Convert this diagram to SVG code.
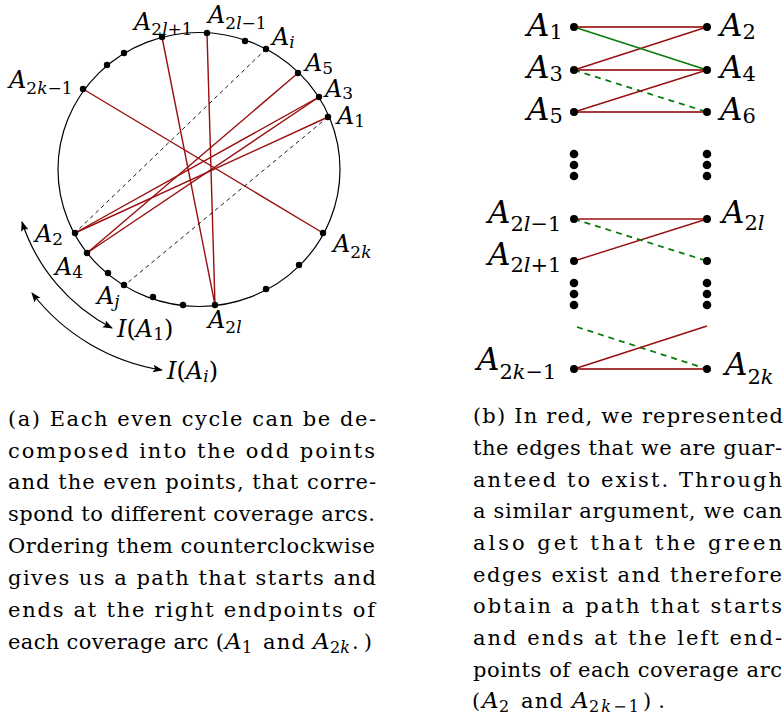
<svg xmlns="http://www.w3.org/2000/svg" width="784" height="721" viewBox="0 0 784 721">
<style>
  .lab { font-family: "DejaVu Serif", "Liberation Serif", serif; font-size: 24px; font-style: italic; fill: #000; }
  .labR { font-family: "DejaVu Serif", "Liberation Serif", serif; font-size: 31px; font-style: italic; fill: #000; }
  .sub { font-size: 17px; font-style: normal; }
  .subR { font-size: 21px; font-style: normal; }
  .it { font-style: italic; }
  .up { font-style: normal; }
  .cap { font-family: "DejaVu Serif", "Liberation Serif", serif; font-size: 21px; fill: #000; }
  .capA { font-size: 23px; font-style: italic; }
  .capS { font-size: 16px; }
  .red { stroke: #990f0f; stroke-width: 1.4; fill: none; }
  .redh { stroke: #a83a3a; stroke-width: 2; fill: none; }
  .grn { stroke: #0a7a0a; stroke-width: 1.6; fill: none; }
  .grnd { stroke: #0a7a0a; stroke-width: 1.8; fill: none; stroke-dasharray: 6 5; }
  .blkd { stroke: #000; stroke-width: 0.9; fill: none; stroke-dasharray: 4 3.5; }
  .dot { fill: #000; }
  .arc { stroke: #000; stroke-width: 1.2; fill: none; marker-start: url(#ah); marker-end: url(#ah); }
</style>
<defs>
  <marker id="ah" viewBox="0 0 10 10" refX="9" refY="5" markerWidth="10" markerHeight="10" markerUnits="userSpaceOnUse" orient="auto-start-reverse">
    <path d="M0,1.2 L10,5 L0,8.8 L2,5 z" fill="#000"/>
  </marker>
</defs>

<ellipse id="circle" cx="199" cy="169.5" rx="141" ry="137" fill="none" stroke="#000" stroke-width="1.2"/>

<g id="connectors">
  <line class="red" x1="83" y1="89" x2="323" y2="233"/>
  <line class="red" x1="162" y1="37" x2="215" y2="305"/>
  <line class="red" x1="207" y1="33" x2="215" y2="305"/>
  <line class="red" x1="298" y1="73" x2="87" y2="253"/>
  <line class="red" x1="319" y1="97" x2="75" y2="233"/>
  <line class="red" x1="319" y1="97" x2="87" y2="253"/>
  <line class="red" x1="328" y1="117" x2="75" y2="233"/>
  <line class="blkd" x1="266" y1="49" x2="78" y2="230"/>
  <line class="blkd" x1="328" y1="117" x2="126" y2="284"/>
  <path class="arc" d="M22,222 A183,183 0 0 0 112,328"/>
  <path class="arc" d="M32,293 A205,205 0 0 0 162,370"/>
  <line class="redh" x1="574" y1="27" x2="707" y2="27"/>
  <line class="red" x1="574" y1="70" x2="707" y2="27"/>
  <line class="grn" x1="574" y1="27" x2="707" y2="70"/>
  <line class="redh" x1="574" y1="70" x2="707" y2="70"/>
  <line class="grnd" x1="574" y1="70" x2="707" y2="112"/>
  <line class="red" x1="574" y1="112" x2="707" y2="70"/>
  <line class="redh" x1="574" y1="112" x2="707" y2="112"/>
  <line class="red" x1="574" y1="219" x2="707" y2="219"/>
  <line class="red" x1="574" y1="261" x2="707" y2="219"/>
  <line class="grnd" x1="574" y1="219" x2="707" y2="261"/>
  <line class="grnd" x1="577" y1="327" x2="707" y2="369"/>
  <line class="red" x1="574" y1="369" x2="707" y2="326"/>
  <line class="redh" x1="574" y1="369" x2="707" y2="369"/>
</g>

<g id="A1"><circle class="dot" cx="328" cy="117" r="3.2"/>
  <text class="lab" x="337" y="124">A<tspan class="sub" dy="3">1</tspan></text></g>
<g id="A3"><circle class="dot" cx="319" cy="97" r="3.2"/>
  <text class="lab" x="325" y="97">A<tspan class="sub" dy="2">3</tspan></text></g>
<g id="A5"><circle class="dot" cx="298" cy="73" r="3.2"/>
  <text class="lab" x="305" y="71">A<tspan class="sub" dy="3">5</tspan></text></g>
<g id="Ai"><circle class="dot" cx="266" cy="49" r="3.2"/>
  <text class="lab" x="272" y="45">A<tspan class="sub it" dy="3">i</tspan></text></g>
<g id="d1"><circle class="dot" cx="245" cy="41" r="3.2"/></g>
<g id="A2lm1"><circle class="dot" cx="207" cy="33" r="3.2"/>
  <text class="lab" x="208" y="23">A<tspan class="sub" dy="6">2<tspan class="it">l</tspan>−1</tspan></text></g>
<g id="A2lp1"><circle class="dot" cx="162" cy="37" r="3.2"/>
  <text class="lab" x="134" y="30">A<tspan class="sub" dy="5">2<tspan class="it">l</tspan>+1</tspan></text></g>
<g id="d2"><circle class="dot" cx="124" cy="53" r="3.2"/></g>
<g id="d3"><circle class="dot" cx="107" cy="65" r="3.2"/></g>
<g id="A2km1"><circle class="dot" cx="83" cy="89" r="3.2"/>
  <text class="lab" x="9" y="88">A<tspan class="sub" dy="6">2<tspan class="it">k</tspan>−1</tspan></text></g>
<g id="A2"><circle class="dot" cx="75" cy="233" r="3.2"/>
  <text class="lab" x="35" y="242">A<tspan class="sub" dy="3">2</tspan></text></g>
<g id="A4"><circle class="dot" cx="87" cy="253" r="3.2"/>
  <text class="lab" x="55" y="275">A<tspan class="sub" dy="3">4</tspan></text></g>
<g id="d4"><circle class="dot" cx="108" cy="273" r="3.2"/></g>
<g id="Aj"><circle class="dot" cx="124" cy="285" r="3.2"/>
  <text class="lab" x="97" y="304">A<tspan class="sub it" dy="3">j</tspan></text></g>
<g id="d5"><circle class="dot" cx="153" cy="297" r="3.2"/></g>
<g id="d6"><circle class="dot" cx="183" cy="305" r="3.2"/></g>
<g id="A2l"><circle class="dot" cx="215" cy="305" r="3.2"/>
  <text class="lab" x="208" y="328">A<tspan class="sub" dy="5">2<tspan class="it">l</tspan></tspan></text></g>
<g id="d7"><circle class="dot" cx="266" cy="289" r="3.2"/></g>
<g id="d8"><circle class="dot" cx="299" cy="265" r="3.2"/></g>
<g id="A2k"><circle class="dot" cx="323" cy="233" r="3.2"/>
  <text class="lab" x="333" y="252">A<tspan class="sub" dy="6">2<tspan class="it">k</tspan></tspan></text></g>
<g id="IA1"><text class="lab" x="117" y="337">I<tspan class="up">(</tspan>A<tspan class="sub" dy="3">1</tspan><tspan class="up" dy="-3">)</tspan></text></g>
<g id="IAi"><text class="lab" x="167" y="379">I<tspan class="up">(</tspan>A<tspan class="sub it" dy="3">i</tspan><tspan class="up" dy="-3">)</tspan></text></g>

<g id="R_A1"><circle class="dot" cx="574" cy="27" r="4"/>
  <text class="labR" x="527" y="36">A<tspan class="subR" dy="3">1</tspan></text></g>
<g id="R_A2"><circle class="dot" cx="707" cy="27" r="4"/>
  <text class="labR" x="720" y="36">A<tspan class="subR" dy="3">2</tspan></text></g>
<g id="R_A3"><circle class="dot" cx="574" cy="70" r="4"/>
  <text class="labR" x="527" y="78">A<tspan class="subR" dy="3">3</tspan></text></g>
<g id="R_A4"><circle class="dot" cx="707" cy="70" r="4"/>
  <text class="labR" x="720" y="78">A<tspan class="subR" dy="3">4</tspan></text></g>
<g id="R_A5"><circle class="dot" cx="574" cy="112" r="4"/>
  <text class="labR" x="527" y="120">A<tspan class="subR" dy="3">5</tspan></text></g>
<g id="R_A6"><circle class="dot" cx="707" cy="112" r="4"/>
  <text class="labR" x="720" y="120">A<tspan class="subR" dy="3">6</tspan></text></g>
<g id="R_vdots1">
  <circle class="dot" cx="574" cy="154" r="4.3"/><circle class="dot" cx="574" cy="165" r="4.3"/><circle class="dot" cx="574" cy="176" r="4.3"/>
  <circle class="dot" cx="707" cy="154" r="4.3"/><circle class="dot" cx="707" cy="165" r="4.3"/><circle class="dot" cx="707" cy="176" r="4.3"/>
</g>
<g id="R_A2lm1"><circle class="dot" cx="574" cy="219" r="4"/>
  <text class="labR" x="488" y="223">A<tspan class="subR" dy="8">2<tspan class="it">l</tspan>−1</tspan></text></g>
<g id="R_A2l"><circle class="dot" cx="707" cy="219" r="4"/>
  <text class="labR" x="722" y="223">A<tspan class="subR" dy="7">2<tspan class="it">l</tspan></tspan></text></g>
<g id="R_A2lp1"><circle class="dot" cx="574" cy="261" r="4"/>
  <text class="labR" x="488" y="265">A<tspan class="subR" dy="7">2<tspan class="it">l</tspan>+1</tspan></text></g>
<g id="R_B2l"><circle class="dot" cx="707" cy="261" r="4"/></g>
<g id="R_vdots2">
  <circle class="dot" cx="574" cy="283" r="4.3"/><circle class="dot" cx="574" cy="294" r="4.3"/><circle class="dot" cx="574" cy="305" r="4.3"/>
  <circle class="dot" cx="707" cy="283" r="4.3"/><circle class="dot" cx="707" cy="294" r="4.3"/><circle class="dot" cx="707" cy="305" r="4.3"/>
</g>
<g id="R_A2km1"><circle class="dot" cx="574" cy="369" r="4"/>
  <text class="labR" x="477" y="370">A<tspan class="subR" dy="9">2<tspan class="it">k</tspan>−1</tspan></text></g>
<g id="R_A2k"><circle class="dot" cx="707" cy="369" r="4"/>
  <text class="labR" x="725" y="375">A<tspan class="subR" dy="9">2<tspan class="it">k</tspan></tspan></text></g>

<g id="caption-a" class="cap">
  <text x="8" y="426" textLength="368" lengthAdjust="spacing">(a) Each even cycle can be de-</text>
  <text x="8" y="457.7" textLength="367" lengthAdjust="spacing">composed into the odd points</text>
  <text x="8" y="489.4" textLength="368" lengthAdjust="spacing">and the even points, that corre-</text>
  <text x="8" y="521" textLength="367" lengthAdjust="spacing">spond to different coverage arcs.</text>
  <text x="8" y="553" textLength="367" lengthAdjust="spacing">Ordering them counterclockwise</text>
  <text x="8" y="585" textLength="368" lengthAdjust="spacing">gives us a path that starts and</text>
  <text x="8" y="617" textLength="367" lengthAdjust="spacing">ends at the right endpoints of</text>
  <text x="8" y="649" textLength="216" lengthAdjust="spacing">each coverage arc (</text>
  <text class="capA" x="225" y="649">A</text>
  <text class="capS" x="242" y="653">1</text>
  <text x="263" y="649" textLength="42" lengthAdjust="spacing">and</text>
  <text class="capA" x="313" y="649">A</text>
  <text class="capS" x="330" y="653">2<tspan font-style="italic">k</tspan></text>
  <text x="352" y="649" textLength="20" lengthAdjust="spacing">.)</text>
</g>
<g id="caption-b" class="cap">
  <text x="473" y="423" textLength="310" lengthAdjust="spacing">(b) In red, we represented</text>
  <text x="473" y="455" textLength="309" lengthAdjust="spacing">the edges that we are guar-</text>
  <text x="473" y="487" textLength="309" lengthAdjust="spacing">anteed to exist.  Through</text>
  <text x="473" y="518" textLength="309" lengthAdjust="spacing">a similar argument, we can</text>
  <text x="473" y="550" textLength="309" lengthAdjust="spacing">also get that the green</text>
  <text x="473" y="582" textLength="309" lengthAdjust="spacing">edges exist and therefore</text>
  <text x="473" y="613" textLength="309" lengthAdjust="spacing">obtain a path that starts</text>
  <text x="473" y="645" textLength="309" lengthAdjust="spacing">and ends at the left end-</text>
  <text x="473" y="677" textLength="309" lengthAdjust="spacing">points of each coverage arc</text>
  <text x="472" y="708">(</text>
  <text class="capA" x="482" y="708">A</text>
  <text class="capS" x="499" y="712">2</text>
  <text x="521" y="708" textLength="42" lengthAdjust="spacing">and</text>
  <text class="capA" x="572" y="708">A</text>
  <text class="capS" x="589" y="712" font-size="17" textLength="50" lengthAdjust="spacing">2<tspan font-style="italic">k</tspan>−1</text>
  <text x="643" y="708" textLength="22" lengthAdjust="spacing">).</text>
</g>
</svg>
